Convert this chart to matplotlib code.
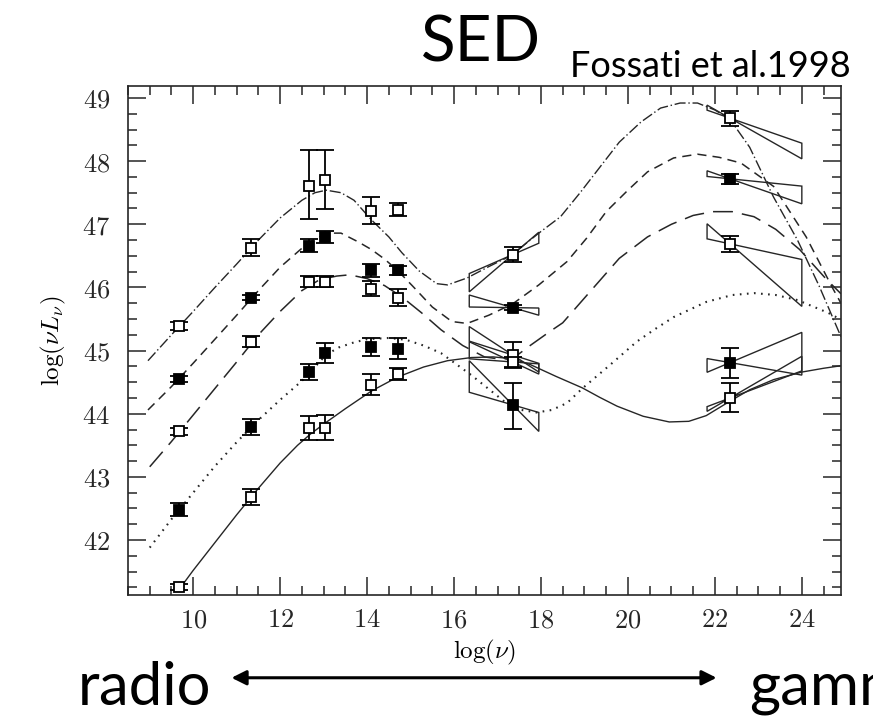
import numpy as np
import matplotlib
matplotlib.use("Agg")
import matplotlib.pyplot as plt
from matplotlib.patches import Polygon, FancyArrowPatch

plt.rcParams["mathtext.fontset"] = "cm"

# --------------------------------------------------
# DATA
# --------------------------------------------------
# observing frequencies (log nu): radio, mm, far-IR, IR, optical, UV, X-ray, gamma
obs_x = [9.68, 11.34, 12.67, 13.04, 14.1, 14.7, 17.35, 22.35]

# luminosity bins 1..5 (top to bottom)
bin1_y = [45.39, 46.63, 47.61, 47.70, 47.21, 47.23, 46.52, 48.68]
bin1_lo = [0.07, 0.13, 0.52, 0.46, 0.21, 0.10, 0.12, 0.12]
bin1_hi = [0.07, 0.13, 0.56, 0.47, 0.22, 0.10, 0.12, 0.12]

bin2_y = [44.55, 45.84, 46.66, 46.80, 46.27, 46.27, 45.68, 47.72]
bin2_lo = [0.05, 0.04, 0.10, 0.10, 0.10, 0.07, 0.04, 0.08]
bin2_hi = [0.05, 0.04, 0.10, 0.10, 0.10, 0.07, 0.04, 0.08]

bin3_y = [43.72, 45.14, 46.09, 46.09, 45.98, 45.84, 44.93, 46.69]
bin3_lo = [0.05, 0.09, 0.09, 0.09, 0.12, 0.14, 0.20, 0.13]
bin3_hi = [0.05, 0.09, 0.09, 0.09, 0.12, 0.14, 0.20, 0.13]

bin4_y = [42.48, 43.79, 44.66, 44.96, 45.06, 45.03, 44.14, 44.81]
bin4_lo = [0.10, 0.12, 0.12, 0.16, 0.14, 0.17, 0.38, 0.24]
bin4_hi = [0.10, 0.12, 0.12, 0.16, 0.14, 0.17, 0.35, 0.23]

bin5_y = [41.26, 42.68, 43.78, 43.78, 44.46, 44.63, 44.82, 44.25]
bin5_lo = [0.05, 0.13, 0.19, 0.20, 0.17, 0.10, 0.08, 0.23]
bin5_hi = [0.05, 0.13, 0.19, 0.20, 0.17, 0.10, 0.08, 0.23]

# model curves
c1_x = [8.96, 9.5, 10.0, 10.5, 11.0, 11.5, 12.0, 12.5, 12.8, 13.06, 13.4, 13.7,
        14.1, 14.5, 14.8, 15.2, 15.6, 15.85, 16.3, 16.8, 17.3, 17.95, 18.45,
        18.9, 19.35, 19.8, 20.3, 20.75, 21.2, 21.6, 22.0, 22.35, 22.8, 23.35,
        23.9, 24.4, 24.9]
c1_y = [44.84, 45.25, 45.62, 46.0, 46.37, 46.75, 47.1, 47.38, 47.5, 47.54, 47.5,
        47.38, 47.07, 46.8, 46.55, 46.26, 46.06, 46.04, 46.15, 46.33, 46.5,
        46.86, 47.12, 47.5, 47.9, 48.3, 48.62, 48.84, 48.92, 48.92, 48.81,
        48.66, 48.22, 47.43, 46.75, 46.02, 45.22]

c2_x = [8.96, 9.5, 10.0, 10.5, 11.0, 11.5, 12.0, 12.5, 12.8, 13.1, 13.4, 13.8,
        14.1, 14.4, 14.7, 15.05, 15.5, 15.95, 16.3, 16.8, 17.35, 17.95, 18.6,
        19.05, 19.5, 20.0, 20.45, 21.05, 21.6, 22.1, 22.6, 23.35, 24.1, 24.7,
        24.9]
c2_y = [44.06, 44.43, 44.8, 45.18, 45.56, 45.95, 46.32, 46.62, 46.77, 46.86,
        46.86, 46.72, 46.6, 46.45, 46.27, 46.02, 45.69, 45.46, 45.43, 45.56,
        45.74, 46.04, 46.41, 46.78, 47.2, 47.54, 47.83, 48.05, 48.11, 48.06,
        47.97, 47.6, 46.8, 46.0, 45.75]

c3_x = [9.0, 9.5, 10.0, 10.5, 11.0, 11.5, 12.0, 12.5, 12.9, 13.3, 13.6, 14.0,
        14.4, 14.8, 15.25, 15.7, 16.2, 16.7, 17.1, 17.4, 17.75, 18.2, 18.5,
        19.15, 19.8, 20.45, 21.0, 21.5, 21.95, 22.4, 22.9, 23.4, 23.95, 24.55,
        24.9]
c3_y = [43.16, 43.56, 43.98, 44.4, 44.82, 45.25, 45.62, 45.95, 46.12, 46.18,
        46.2, 46.14, 46.03, 45.85, 45.6, 45.33, 45.08, 44.9, 44.86, 44.9, 45.08,
        45.3, 45.44, 45.95, 46.46, 46.8, 47.0, 47.14, 47.2, 47.2, 47.12, 46.92,
        46.6, 46.14, 45.9]

c4_x = [9.0, 9.5, 10.0, 10.5, 11.0, 11.5, 12.0, 12.5, 12.8, 13.05, 13.35, 13.7,
        14.0, 14.5, 14.9, 15.3, 15.7, 16.0, 16.4, 16.8, 17.2, 17.55, 17.9,
        18.25, 18.6, 18.95, 19.6, 20.2, 20.6, 21.05, 21.8, 22.4, 22.9, 23.4,
        23.9, 24.6, 24.9]
c4_y = [41.88, 42.33, 42.75, 43.17, 43.55, 43.9, 44.22, 44.52, 44.74, 44.93,
        45.05, 45.13, 45.18, 45.2, 45.17, 45.08, 44.96, 44.81, 44.61, 44.39,
        44.17, 44.06, 44.02, 44.06, 44.17, 44.4, 44.78, 45.14, 45.33, 45.53,
        45.77, 45.88, 45.91, 45.88, 45.8, 45.6, 45.49]

c5_x = [9.7, 10.0, 10.5, 11.0, 11.5, 12.0, 12.4, 12.7, 13.05, 13.5, 14.1, 14.7,
        15.3, 15.85, 16.4, 16.9, 17.35, 17.75, 18.35, 18.95, 19.35, 19.75,
        20.35, 20.95, 21.4, 21.8, 22.35, 22.8, 23.35, 24.0, 24.5, 24.9]
c5_y = [41.24, 41.52, 41.96, 42.4, 42.82, 43.22, 43.5, 43.68, 43.86, 44.08,
        44.36, 44.58, 44.74, 44.84, 44.89, 44.9, 44.87, 44.78, 44.59, 44.41,
        44.26, 44.12, 43.96, 43.87, 43.88, 43.97, 44.2, 44.38, 44.54, 44.66,
        44.72, 44.76]

# spectral "bow ties": pivot luminosity and the two limiting slopes
xray_band = (16.35, 17.95)
xray_pivot = 17.35
xray_y = [46.52, 45.68, 44.93, 44.82, 44.14]
xray_s1 = [0.30, -0.01, -0.45, -0.05, -0.70]
xray_s2 = [0.59, -0.20, -0.22, -0.32, -0.20]

gamma_band = (21.82, 24.0)
gamma_pivot = 22.35
gamma_y = [48.68, 47.72, 46.69, 44.81, 44.25]
gamma_s1 = [-0.24, -0.07, -0.15, -0.12, 0.26]
gamma_s2 = [-0.39, -0.24, -0.60, 0.29, 0.40]

x_ticks = [10, 12, 14, 16, 18, 20, 22, 24]
y_ticks = [42, 43, 44, 45, 46, 47, 48, 49]


# --------------------------------------------------
# FIGURE
# --------------------------------------------------
fig = plt.figure(figsize=(8.73, 7.28), dpi=100)
ax = fig.add_axes([0.1466, 0.1827, 0.8167, 0.6992])

LC = "0.15"
ax.plot(c1_x, c1_y, color=LC, lw=1.0, ls=(0, (8, 2, 1, 2)), zorder=2)
ax.plot(c2_x, c2_y, color=LC, lw=1.1, ls=(0, (6, 4)), zorder=2)
ax.plot(c3_x, c3_y, color=LC, lw=1.1, ls=(0, (13, 6)), zorder=2)
ax.plot(c4_x, c4_y, color=LC, lw=1.5, ls=(0, (0.8, 2.6)), zorder=2)
ax.plot(c5_x, c5_y, color=LC, lw=1.0, ls="-", zorder=2)


def bowtie(x0, y0, s1, s2, band):
    xa, xb = band
    pts = [(xa, y0 + s1 * (xa - x0)), (xb, y0 + s1 * (xb - x0)),
           (xb, y0 + s2 * (xb - x0)), (xa, y0 + s2 * (xa - x0))]
    ax.add_patch(Polygon(pts, closed=True, fill=False, lw=1.0, ec=LC, zorder=3))


for y0, s1, s2 in zip(xray_y, xray_s1, xray_s2):
    bowtie(xray_pivot, y0, s1, s2, xray_band)
for y0, s1, s2 in zip(gamma_y, gamma_s1, gamma_s2):
    bowtie(gamma_pivot, y0, s1, s2, gamma_band)

series = [
    (bin1_y, bin1_lo, bin1_hi, "white"),
    (bin2_y, bin2_lo, bin2_hi, "black"),
    (bin3_y, bin3_lo, bin3_hi, "white"),
    (bin4_y, bin4_lo, bin4_hi, "black"),
    (bin5_y, bin5_lo, bin5_hi, "white"),
]
for y, lo, hi, face in series:
    ax.errorbar(obs_x, y, yerr=[lo, hi], fmt="s", ms=6.5, mfc=face, mec="black",
                mew=1.3, ecolor="black", elinewidth=1.3, capsize=6.5,
                capthick=1.5, zorder=4)

ax.set_xlim(8.5, 24.9)
ax.set_ylim(41.13, 49.19)

ax.set_xticks(x_ticks, labels=[f"${t}$" for t in x_ticks])
ax.set_yticks(y_ticks, labels=[f"${t}$" for t in y_ticks])
ax.set_xticks(np.arange(8.5, 25.0, 0.5), minor=True)
ax.set_yticks(np.arange(41.25, 49.2, 0.25), minor=True)
ax.tick_params(which="both", direction="in", top=True, right=True,
               width=1.1, colors="0.15")
ax.tick_params(which="major", length=13, labelsize=19)
ax.tick_params(which="minor", length=6.5)
ax.tick_params(axis="x", which="major", pad=9)
ax.tick_params(axis="y", which="major", pad=13)
for s in ax.spines.values():
    s.set_linewidth(1.2)
    s.set_color("0.15")

ax.set_xlabel(r"$\log(\nu)$", fontsize=18, labelpad=3)
ax.set_ylabel(r"$\log(\nu L_\nu)$", fontsize=18, labelpad=10)

# headings and the radio <-> gamma band arrow
fig.text(0.551, 0.915, "SED", fontsize=46, family="Lato", ha="center",
         va="baseline")
fig.text(0.653, 0.894, "Fossati et al.1998", fontsize=26, family="Lato",
         ha="left", va="baseline")
fig.text(0.089, 0.032, "radio", fontsize=43, family="Lato", ha="left",
         va="baseline")
fig.text(0.858, 0.032, "gamma", fontsize=43, family="Lato", ha="left",
         va="baseline")
fig.add_artist(FancyArrowPatch((0.262, 0.069), (0.824, 0.069),
                               transform=fig.transFigure, arrowstyle="<|-|>",
                               mutation_scale=22, lw=2.2, color="black"))

fig.savefig("out.png", dpi=100)
